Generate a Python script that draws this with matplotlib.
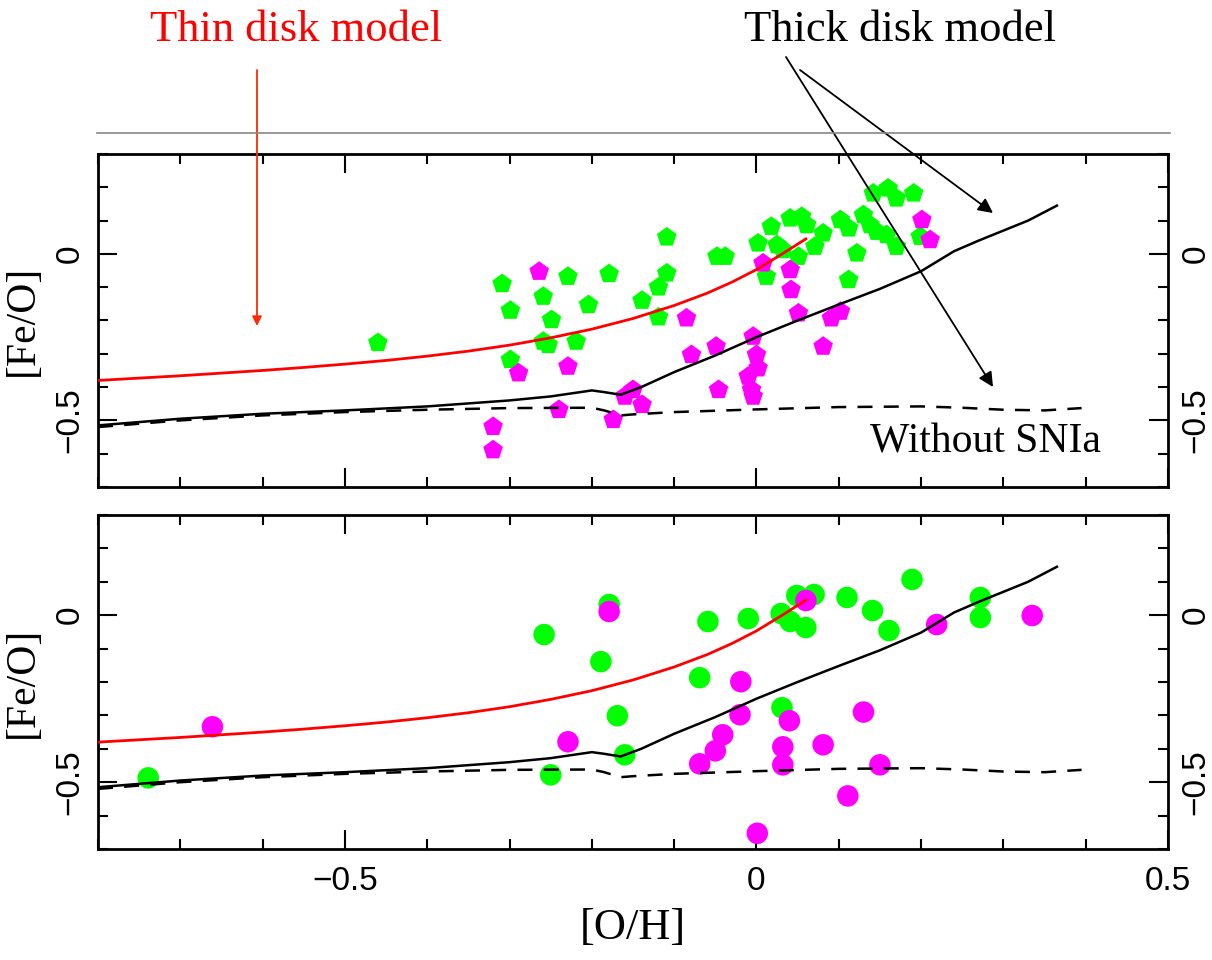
import matplotlib
matplotlib.use("Agg")
import matplotlib.pyplot as plt
from matplotlib.ticker import MultipleLocator, FixedLocator
from matplotlib.patches import FancyArrowPatch

# ---------------- data ----------------
# model curves ([O/H], [Fe/O])
thin_x = [-0.8, -0.75, -0.7, -0.65, -0.6, -0.55, -0.5, -0.45, -0.4, -0.35, -0.3, -0.25, -0.2,
          -0.15, -0.1, -0.06, -0.03, 0.0, 0.03, 0.06]
thin_y = [-0.38, -0.373, -0.366, -0.358, -0.35, -0.341, -0.331, -0.32, -0.307, -0.292, -0.274, -0.252, -0.226,
          -0.194, -0.155, -0.118, -0.085, -0.047, -0.002, 0.045]

thick_x = [-0.8, -0.7, -0.6, -0.5, -0.4, -0.3, -0.25, -0.2, -0.185, -0.165, -0.14, -0.1, -0.05, 0.0, 0.05,
           0.1, 0.15, 0.2, 0.24, 0.27, 0.3, 0.33, 0.365]
thick_y = [-0.515, -0.495, -0.48, -0.47, -0.458, -0.44, -0.428, -0.41, -0.415, -0.423, -0.40, -0.355, -0.305,
           -0.25, -0.20, -0.152, -0.105, -0.052, 0.008, 0.04, 0.07, 0.10, 0.145]

nosn_x = [-0.8, -0.7, -0.6, -0.5, -0.4, -0.3, -0.2, -0.185, -0.165, -0.15, -0.1, 0.0, 0.1, 0.2,
          0.25, 0.3, 0.35, 0.395]
nosn_y = [-0.52, -0.50, -0.485, -0.475, -0.468, -0.463, -0.462, -0.47, -0.485, -0.482, -0.475, -0.467, -0.46, -0.458,
          -0.462, -0.468, -0.47, -0.463]

# top panel: pentagons
top_green_x = [-0.46, -0.309, -0.299, -0.259, -0.249, -0.259, -0.253, -0.299, -0.229, -0.204, -0.219, -0.179,
               -0.139, -0.109, -0.109, -0.119, -0.119, -0.048, -0.038, 0.002, 0.018, 0.025, 0.032, 0.012,
               0.041, 0.055, 0.061, 0.051, 0.071, 0.081, 0.102, 0.112, 0.130, 0.138, 0.142, 0.160, 0.170,
               0.191, 0.146, 0.158, 0.170, 0.122, 0.112, 0.199]
top_green_y = [-0.267, -0.090, -0.170, -0.128, -0.198, -0.263, -0.273, -0.318, -0.068, -0.153, -0.263, -0.060,
               -0.140, 0.050, -0.058, -0.100, -0.190, -0.008, -0.008, 0.032, 0.082, 0.027, 0.012, -0.068,
               0.107, 0.112, 0.087, -0.008, 0.022, 0.062, 0.102, 0.077, 0.117, 0.087, 0.182, 0.197, 0.167,
               0.182, 0.067, 0.057, 0.022, 0.002, -0.078, 0.052]

top_mag_x = [-0.264, -0.289, -0.229, -0.320, -0.320, -0.240, -0.174, -0.160, -0.150, -0.139, -0.085, -0.079,
             -0.049, -0.046, -0.004, 0.000, 0.002, -0.010, -0.006, -0.004, 0.008, 0.041, 0.042, 0.051,
             0.102, 0.091, 0.081, 0.201, 0.211]
top_mag_y = [-0.053, -0.358, -0.338, -0.519, -0.589, -0.468, -0.498, -0.428, -0.408, -0.453, -0.193, -0.303,
             -0.278, -0.408, -0.248, -0.303, -0.343, -0.368, -0.408, -0.428, -0.028, -0.048, -0.108, -0.178,
             -0.173, -0.193, -0.278, 0.102, 0.042]

# bottom panel: circles
bot_green_x = [-0.739, -0.250, -0.258, -0.179, -0.189, -0.169, -0.160, -0.069, -0.059, -0.010, 0.030, 0.041,
               0.049, 0.060, 0.070, 0.031, 0.110, 0.141, 0.161, 0.189, 0.272, 0.272]
bot_green_y = [-0.487, -0.478, -0.058, 0.032, -0.139, -0.301, -0.418, -0.187, -0.019, -0.010, 0.005, -0.019,
               0.059, -0.037, 0.062, -0.277, 0.053, 0.014, -0.046, 0.107, 0.053, -0.007]

bot_mag_x = [-0.661, -0.229, -0.179, -0.019, -0.020, -0.041, -0.050, -0.069, 0.001, 0.032, 0.032, 0.040,
             0.081, 0.060, 0.130, 0.111, 0.150, 0.219, 0.335]
bot_mag_y = [-0.334, -0.379, 0.011, -0.199, -0.298, -0.358, -0.406, -0.445, -0.653, -0.394, -0.448, -0.316,
             -0.388, 0.044, -0.290, -0.541, -0.448, -0.028, -0.001]

x_ticks = [-0.5, 0.0, 0.5]
x_ticklabels = ["\u22120.5", "0", "0.5"]
y_ticks = [-0.5, 0.0]
y_ticklabels = ["\u22120.5", "0"]

# ---------------- figure ----------------
W, H = 1212, 960
fig = plt.figure(figsize=(W / 100, H / 100), dpi=100)
fig.patch.set_facecolor("white")

L, R = 98, 1168
ax1 = fig.add_axes([L / W, 1 - 487 / H, (R - L) / W, (487 - 154) / H])
ax2 = fig.add_axes([L / W, 1 - 849 / H, (R - L) / W, (849 - 515) / H])

tickfont = "Liberation Sans"
labelfont = "Liberation Serif"

for ax, marker, size, gx, gy, mx, my in [
        (ax1, "p", 220, top_green_x, top_green_y, top_mag_x, top_mag_y),
        (ax2, "o", 240, bot_green_x, bot_green_y, bot_mag_x, bot_mag_y)]:
    ax.scatter(gx, gy, s=size, marker=marker, color="#00ff00", edgecolors="none", zorder=2)
    ax.scatter(mx, my, s=size, marker=marker, color="#ff00ff", edgecolors="none", zorder=2)
    ax.plot(thin_x, thin_y, color="#ff0000", lw=2.0, zorder=3)
    ax.plot(thick_x, thick_y, color="black", lw=1.8, zorder=3)
    ln, = ax.plot(nosn_x, nosn_y, color="black", lw=1.8, zorder=3)
    ln.set_dashes((6, 4.5))

    ax.set_xlim(-0.8, 0.5)
    ax.set_ylim(-0.7, 0.3)
    ax.xaxis.set_major_locator(FixedLocator(x_ticks))
    ax.xaxis.set_minor_locator(MultipleLocator(0.1))
    ax.yaxis.set_major_locator(FixedLocator(y_ticks))
    ax.yaxis.set_minor_locator(MultipleLocator(0.1))
    ax.tick_params(which="both", direction="in", top=True, right=True, width=1.5, color="black")
    ax.tick_params(which="major", length=14)
    ax.tick_params(which="minor", length=7)
    ax.tick_params(axis="y", labelleft=True, labelright=True, pad=9)
    ax.set_yticklabels(y_ticklabels, rotation=90, va="center", fontsize=24, family=tickfont)
    for sp in ax.spines.values():
        sp.set_linewidth(2.0)
    ax.set_ylabel("[Fe/O]", family=labelfont, fontsize=30)
    ax.yaxis.set_label_coords(-0.052, 0.5)

ax1.tick_params(axis="x", labelbottom=False)
ax2.set_xticklabels(x_ticklabels, fontsize=24, family=tickfont)
ax2.tick_params(axis="x", pad=12)
ax2.set_xlabel("[O/H]", family=labelfont, fontsize=32, labelpad=8)

# ---------------- annotations (pixel coordinates overlay) ----------------
ov = fig.add_axes([0, 0, 1, 1], zorder=10)
ov.set_xlim(0, W)
ov.set_ylim(H, 0)
ov.axis("off")
ov.patch.set_alpha(0)

ov.plot([97, 1170], [133, 133], color="#888888", lw=1.2)
ov.text(296, 30, "Thin disk model", color="#ff0000", family="Liberation Serif", fontsize=32,
        ha="center", va="center")
ov.text(900, 30, "Thick disk model", color="black", family="Liberation Serif", fontsize=32,
        ha="center", va="center")
ov.text(985, 442, "Without SNIa", color="black", family="Liberation Serif", fontsize=30,
        ha="center", va="center")

ov.add_patch(FancyArrowPatch((257, 70), (257, 326), arrowstyle="-|>", mutation_scale=14,
                             color="#ff2a00", lw=1.3, shrinkA=0, shrinkB=0))
ov.add_patch(FancyArrowPatch((800, 70), (993, 213), arrowstyle="-|>", mutation_scale=22,
                             color="black", lw=1.3, shrinkA=0, shrinkB=0))
ov.add_patch(FancyArrowPatch((786, 57), (993, 387), arrowstyle="-|>", mutation_scale=22,
                             color="black", lw=1.3, shrinkA=0, shrinkB=0))

fig.savefig("out.png", dpi=100, facecolor="white")
